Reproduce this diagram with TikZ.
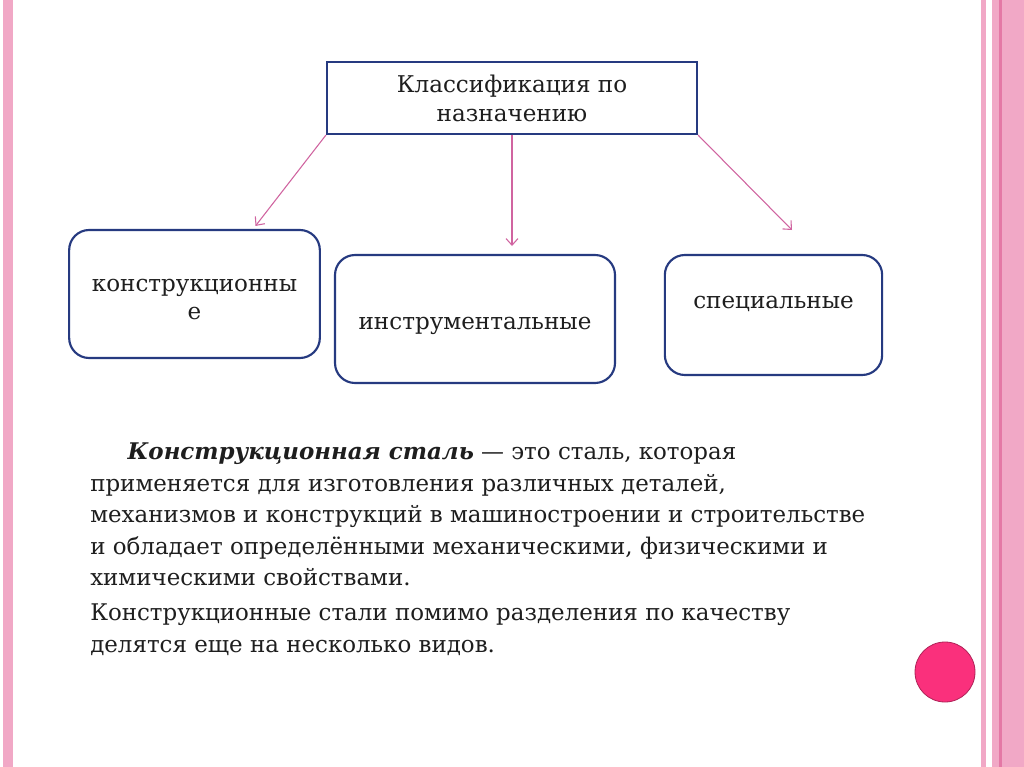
\documentclass[tikz,border=0pt]{standalone}
\usepackage{fontspec}
\setmainfont{DejaVu Serif}
\usetikzlibrary{arrows.meta,calc}
\definecolor{stripe}{RGB}{241,168,198}
\definecolor{stripedark}{RGB}{228,120,165}
\definecolor{boxblue}{RGB}{38,58,128}
\definecolor{arrowpink}{RGB}{208,100,160}
\definecolor{dotpink}{RGB}{250,48,124}
\definecolor{txt}{RGB}{30,30,30}
\tikzset{
  headbox/.style={draw=boxblue,line width=1.6pt,fill=white,minimum width=277.5pt,minimum height=54pt,align=center,inner sep=0pt,text=txt,font=\fontsize{17.3}{21}\selectfont},
  roundbox/.style={draw=boxblue,line width=1.6pt,rounded corners=15pt,fill=white,align=center,inner sep=0pt,text=txt,font=\fontsize{17.3}{21}\selectfont},
  link/.style={draw=arrowpink,line width=0.8pt,-{Straight Barb[length=5pt,width=9pt]}},
  bodytext/.style={anchor=north west,align=left,inner sep=0pt,text=txt,font=\fontsize{17.2}{23.6}\selectfont}
}
\begin{document}
\begin{tikzpicture}[x=0.75pt,y=-0.75pt]
\useasboundingbox (0,0) rectangle (1024,767);
\fill[white] (0,0) rectangle (1024,767);
% left stripe
\fill[stripe] (3,0) rectangle (12.5,767);
% right stripes
\fill[stripe] (981,0) rectangle (985.5,767);
\fill[stripe] (991.5,0) rectangle (1024,767);
\fill[stripedark] (999,0) rectangle (1001.5,767);
% boxes
\node[headbox,text height=38.5pt,text depth=4pt] (top) at (512,98) {Классификация по\\назначению};
\node[roundbox,minimum width=188pt,minimum height=96pt,text height=41.5pt,text depth=4pt] (b1) at (194.5,294) {конструкционны\\е};
\node[roundbox,minimum width=210pt,minimum height=96pt,text height=28pt,text depth=13pt] (b2) at (475,319) {инструментальные};
\node[roundbox,minimum width=163pt,minimum height=90pt,text height=13pt,text depth=23.5pt] (b3) at (773.5,315) {специальные};
% arrow ends
\coordinate (e1) at ($(b1.north)+(61,-3)$);
\coordinate (e2) at (512,246);
\coordinate (e3) at (792,230);
\draw[link] (top.south west) -- (e1);
\draw[link] (top.south) -- (e2);
\draw[link] (top.south east) -- (e3);
% body text
\node[bodytext] (p1) at (90,443) {\hspace*{28pt}\textbf{\textit{Конструкционная сталь}} — это сталь, которая\\
применяется для изготовления различных деталей,\\
механизмов и конструкций в машиностроении и строительстве\\
и обладает определёнными механическими, физическими и\\
химическими свойствами.};
\node[bodytext] (p2) at (90,604) {Конструкционные стали помимо разделения по качеству\\
делятся еще на несколько видов.};
% dot
\node[circle,fill=dotpink,draw=dotpink!70!black,line width=0.6pt,minimum size=45pt,inner sep=0pt] (dot) at (945,672) {};
\end{tikzpicture}
\end{document}
